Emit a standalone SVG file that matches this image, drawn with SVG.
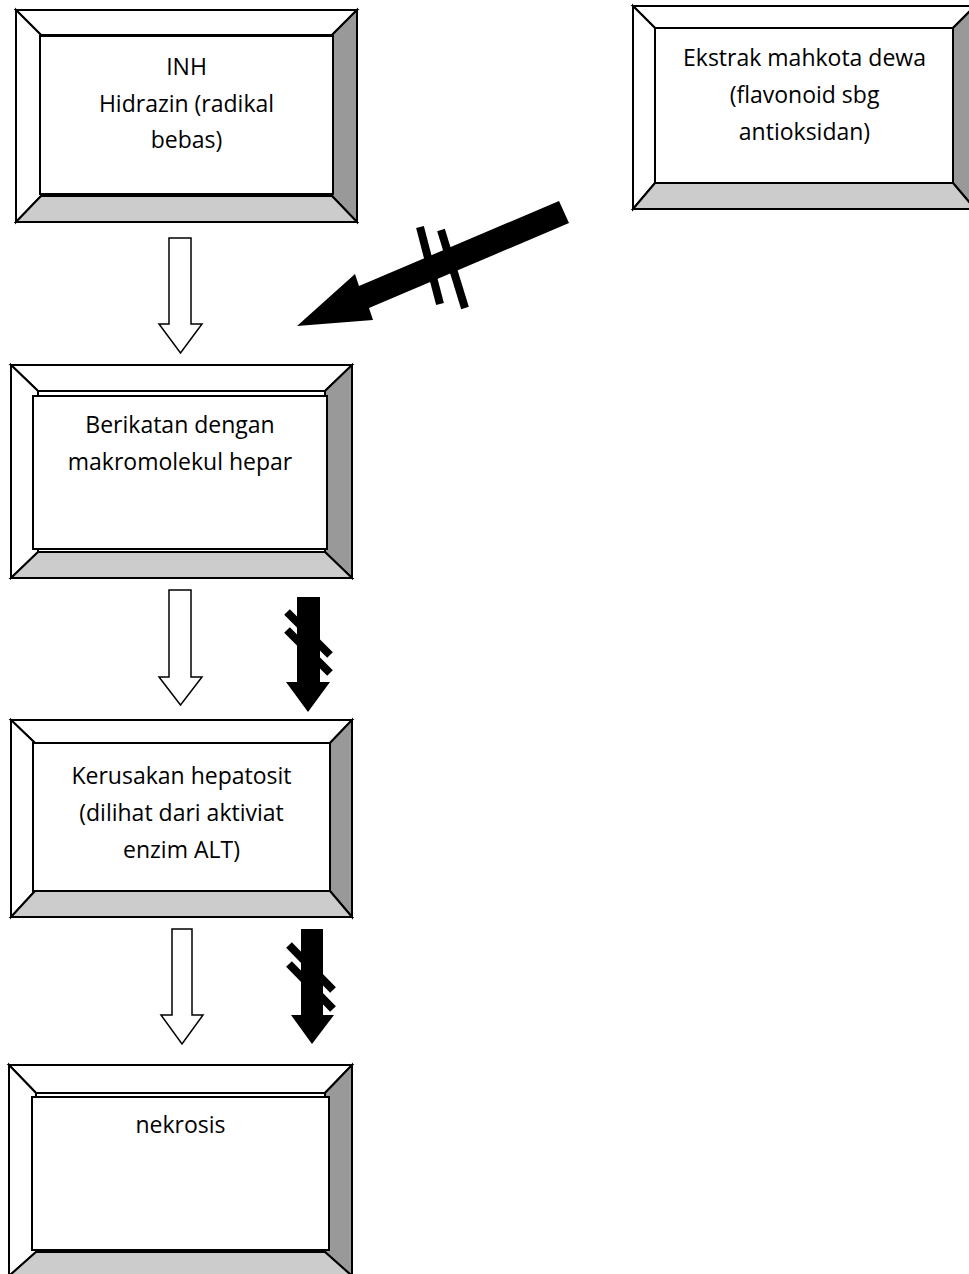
<svg xmlns="http://www.w3.org/2000/svg" width="969" height="1274" viewBox="0 0 969 1274">
<style>
.o{fill:#fff;stroke:#000;stroke-width:2}
.w{fill:#fff;stroke:#000;stroke-width:2;stroke-linejoin:miter}
.d{fill:#999;stroke:#000;stroke-width:2}
.l{fill:#ccc;stroke:#000;stroke-width:2}
.t{fill:#fff;stroke:#000;stroke-width:2}
text{font-family:"Open Sans","Noto Sans",sans-serif;font-size:23px;fill:#000;text-anchor:middle}
.ha{fill:#fff;stroke:#000;stroke-width:1.5;stroke-linejoin:miter}
.ba{fill:#000;stroke:none}
.bar{stroke:#000;stroke-width:8;stroke-linecap:butt}
</style>
<g id="connectors">
<polygon class="ha" points="169,238 191,238 191,324 202,324 180.5,353 159,324 169,324"/>
<polygon class="ha" points="169,590 191,590 191,677 202,677 180.5,705 159,677 169,677"/>
<polygon class="ha" points="172,929 192,929 192,1015 203,1015 182,1044 161,1015 172,1015"/>
<polygon class="ba" points="297,597 320,597 320,682 330,682 308,712 286,682 297,682"/>
<line class="bar" x1="287" y1="612" x2="330" y2="655"/>
<line class="bar" x1="287" y1="630" x2="330" y2="673"/>
<polygon class="ba" points="301,929 323,929 323,1015 334,1015 312,1044 291,1015 301,1015"/>
<line class="bar" x1="289" y1="945" x2="333" y2="990"/>
<line class="bar" x1="289" y1="964" x2="333" y2="1009"/>
<polygon class="ba" points="559,201 569,223 369,308 373,320 297,326 355,274 359,286"/>
<line class="bar" x1="420" y1="227" x2="440" y2="304"/>
<line class="bar" x1="441" y1="230" x2="465" y2="308"/>
</g>
<g id="node-inh">
<polygon class="w" points="16,10 357,10 332,35 41,35"/>
<polygon class="w" points="16,10 41,35 41,196 16,222"/>
<polygon class="d" points="357,10 357,222 332,196 332,35"/>
<polygon class="l" points="16,222 357,222 332,196 41,196"/>
<rect class="t" x="40" y="36" width="293" height="158"/>
<text x="186.5" y="75">INH</text>
<text x="186.5" y="112">Hidrazin (radikal</text>
<text x="186.5" y="148">bebas)</text>
</g>
<g id="node-ekstrak">
<polygon class="w" points="633,6 975,6 953,28 655,28"/>
<polygon class="w" points="633,6 655,28 655,183 633,209"/>
<polygon class="d" points="975,6 975,209 953,183 953,28"/>
<polygon class="l" points="633,209 975,209 953,183 655,183"/>
<rect class="t" x="655" y="28" width="298" height="155"/>
<text x="804.5" y="66">Ekstrak mahkota dewa</text>
<text x="804.5" y="103">(flavonoid sbg</text>
<text x="804.5" y="140">antioksidan)</text>
</g>
<g id="node-berikatan">
<polygon class="w" points="11,365 352,365 325,391 38,391"/>
<polygon class="w" points="11,365 38,391 38,552 11,578"/>
<polygon class="d" points="352,365 352,578 325,552 325,391"/>
<polygon class="l" points="11,578 352,578 325,552 38,552"/>
<rect class="t" x="33" y="396" width="294" height="153"/>
<text x="180" y="433">Berikatan dengan</text>
<text x="180" y="470">makromolekul hepar</text>
</g>
<g id="node-kerusakan">
<polygon class="w" points="11,720 352,720 330,743 35,743"/>
<polygon class="w" points="11,720 35,743 35,891 11,917"/>
<polygon class="d" points="352,720 352,917 330,891 330,743"/>
<polygon class="l" points="11,917 352,917 330,891 35,891"/>
<rect class="t" x="33" y="743" width="297" height="148"/>
<text x="181.5" y="784">Kerusakan hepatosit</text>
<text x="181.5" y="821">(dilihat dari aktiviat</text>
<text x="181.5" y="858">enzim ALT)</text>
</g>
<g id="node-nekrosis">
<polygon class="w" points="9,1065 352,1065 325,1093 36,1093"/>
<polygon class="w" points="9,1065 36,1093 36,1252 9,1276"/>
<polygon class="d" points="352,1065 352,1276 325,1252 325,1093"/>
<polygon class="l" points="9,1276 352,1276 325,1252 36,1252"/>
<rect class="t" x="32" y="1097" width="297" height="153"/>
<text x="180.5" y="1133">nekrosis</text>
</g>
</svg>
